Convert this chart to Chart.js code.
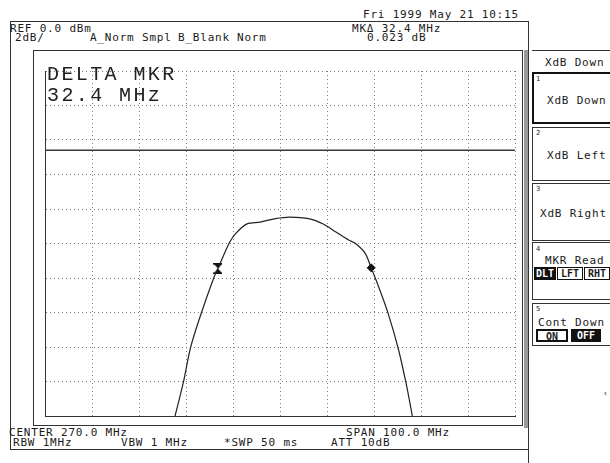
<!DOCTYPE html>
<html lang="en">

<head>
    <meta charset="UTF-8">
    <title>XdB Down</title>
    <style>
        body { margin: 0; background: #fff; }
        #screen { position: relative; width: 610px; height: 463px; overflow: hidden; background: #fff; color: #1a1a1a; }
        .s { position: absolute; font: 11px "DejaVu Sans Mono", monospace; letter-spacing: 0.8px; line-height: 11px; white-space: pre; }
        .big { position: absolute; font: 20px "Liberation Mono", monospace; letter-spacing: 2.4px; line-height: 21px; white-space: pre; color: #222; }
        .ln { position: absolute; background: #333; }
        .box { position: absolute; border: 1px solid #333; box-sizing: border-box; }
        .num { position: absolute; font: 7px "DejaVu Sans Mono", monospace; }
        .btn { position: absolute; font: bold 10px "DejaVu Sans Mono", monospace; text-align: center; line-height: 12px; height: 13px; box-sizing: border-box; border: 1px solid #111; }
        .on { background: #111; color: #fff; }
        #plot { position: absolute; left: 39px; top: 65px; }
    </style>
</head>

<body>
    <div id="screen">
        <!-- header -->
        <div class="s" style="left:363px;top:9px">Fri 1999 May 21 10:15</div>
        <div class="ln" style="left:10px;top:21px;width:518px;height:1px"></div>
        <div class="s" style="left:10px;top:23px">REF 0.0 dBm</div>
        <div class="s" style="left:352px;top:23px">MK&#916; 32.4 MHz</div>
        <div class="s" style="left:15px;top:32px">2dB/</div>
        <div class="s" style="left:90px;top:32px">A_Norm</div>
        <div class="s" style="left:142px;top:32px">Smpl</div>
        <div class="s" style="left:178px;top:32px">B_Blank</div>
        <div class="s" style="left:237px;top:32px">Norm</div>
        <div class="s" style="left:367px;top:32px">0.023 dB</div>

        <!-- frames -->
        <div class="ln" style="left:10px;top:21px;width:1px;height:429px"></div>
        <div class="ln" style="left:528px;top:21px;width:1px;height:442px"></div>
        <div class="box" style="left:33px;top:50px;width:490px;height:376px"></div>
        <div style="position:absolute;left:524px;top:50px;width:4px;height:378px;background:#999"></div>
        <div class="ln" style="left:10px;top:449px;width:518px;height:1px"></div>

        <!-- footer -->
        <div class="s" style="left:9px;top:427px">CENTER 270.0 MHz</div>
        <div class="s" style="left:346px;top:427px">SPAN 100.0 MHz</div>
        <div class="s" style="left:13px;top:437px">RBW 1MHz</div>
        <div class="s" style="left:121px;top:437px">VBW 1 MHz</div>
        <div class="s" style="left:224px;top:437px">*SWP 50 ms</div>
        <div class="s" style="left:331px;top:437px">ATT 10dB</div>

        <!-- softkeys -->
        <div class="ln" style="left:532px;top:50px;width:78px;height:1px"></div>
        <div class="s" style="left:545px;top:57px">XdB Down</div>
        <div class="box" style="left:532px;top:72px;width:80px;height:52px;border:2px solid #111"></div>
        <div class="num" style="left:536px;top:75px">1</div>
        <div class="s" style="left:547px;top:95px">XdB Down</div>
        <div class="box" style="left:532px;top:127px;width:80px;height:54px"></div>
        <div class="num" style="left:536px;top:129px">2</div>
        <div class="s" style="left:547px;top:150px">XdB Left</div>
        <div class="box" style="left:532px;top:183px;width:80px;height:58px"></div>
        <div class="num" style="left:536px;top:185px">3</div>
        <div class="s" style="left:540px;top:208px">XdB Right</div>
        <div class="box" style="left:532px;top:242px;width:80px;height:58px"></div>
        <div class="num" style="left:536px;top:245px">4</div>
        <div class="s" style="left:545px;top:255px">MKR Read</div>
        <div class="btn on" style="left:534px;top:267px;width:22px">DLT</div>
        <div class="btn" style="left:557px;top:267px;width:26px">LFT</div>
        <div class="btn" style="left:584px;top:267px;width:26px">RHT</div>
        <div class="box" style="left:532px;top:303px;width:80px;height:43px"></div>
        <div class="num" style="left:536px;top:305px">5</div>
        <div class="s" style="left:538px;top:317px">Cont Down</div>
        <div class="btn" style="left:536px;top:329px;width:32px;border:2px solid #111">ON</div>
        <div class="btn on" style="left:571px;top:329px;width:30px">OFF</div>
        <div class="s" style="left:603px;top:388px;font-size:8px">&#8249;</div>

        <canvas id="plot" width="482" height="357"></canvas>
        <div class="big" style="left:47px;top:64px">DELTA MKR
32.4 MHz</div>
    </div>

    <script src="https://cdn.jsdelivr.net/npm/chart.js"></script>
    <script>
        // sweep settings
        const freqMin = 220, freqMax = 320, freqStep = 10;   // MHz (center 270, span 100)
        const refLevel = 0, dbPerDiv = 2, divisions = 10;     // dBm

        // trace
        const traceFreq = [247.3, 249.4, 251.0, 253.3, 255.9, 256.8, 259.2, 260.6, 263.0, 265.8, 269.0, 272.1, 276.3, 279.1, 281.9, 284.6, 286.0, 288.1, 289.4, 290.9, 293.0, 295.1, 296.8, 298.3];
        const traceLevel = [-20.4, -18.1, -16.0, -14.0, -12.0, -11.45, -9.97, -9.41, -8.86, -8.76, -8.56, -8.47, -8.57, -8.86, -9.33, -9.80, -9.99, -10.56, -11.41, -12.45, -14.05, -16.03, -18.07, -20.2];

        // xdB down markers and display line
        const markerFreq = [256.8, 289.4];
        const markerLevel = [-11.45, -11.41];
        const displayLine = -4.6;

        const hourglass = document.createElement('canvas');
        hourglass.width = 9; hourglass.height = 11;
        const hg = hourglass.getContext('2d');
        hg.fillStyle = '#111';
        hg.fillRect(0, 0, 9, 1.5);
        hg.fillRect(0, 9.5, 9, 1.5);
        hg.beginPath();
        hg.moveTo(0.5, 1); hg.lineTo(8.5, 1); hg.lineTo(0.5, 10); hg.lineTo(8.5, 10);
        hg.closePath();
        hg.fill();

        const trace = traceFreq.map((f, i) => ({ x: f, y: traceLevel[i] }));
        const markers = markerFreq.map((f, i) => ({ x: f, y: markerLevel[i] }));
        const dl = [{ x: freqMin, y: displayLine }, { x: freqMax, y: displayLine }];

        const ctx = document.getElementById('plot').getContext('2d');
        new Chart(ctx, {
            type: 'scatter',
            data: {
                datasets: [
                    { data: dl, showLine: true, borderColor: '#3a3a3a', borderWidth: 1.5, pointRadius: 0 },
                    { data: trace, showLine: true, borderColor: '#222', borderWidth: 1.2, pointRadius: 0, tension: 0.3 },
                    {
                        data: markers, showLine: false, pointStyle: [hourglass, 'rectRot'], pointRadius: [5, 4],
                        backgroundColor: '#111', borderColor: '#111'
                    }
                ]
            },
            options: {
                responsive: false,
                animation: false,
                layout: { padding: 2 },
                plugins: { legend: { display: false }, tooltip: { enabled: false } },
                scales: {
                    x: {
                        type: 'linear', min: freqMin, max: freqMax,
                        ticks: { display: false, stepSize: freqStep },
                        grid: { color: '#7a7a7a', drawTicks: false, lineWidth: 1 },
                        border: { display: true, color: '#333', dash: [1, 3] }
                    },
                    y: {
                        min: refLevel - dbPerDiv * divisions, max: refLevel,
                        ticks: { display: false, stepSize: dbPerDiv },
                        grid: { color: '#7a7a7a', drawTicks: false, lineWidth: 1 },
                        border: { display: true, color: '#333', dash: [1, 3] }
                    }
                }
            }
        });
    </script>
</body>

</html>
